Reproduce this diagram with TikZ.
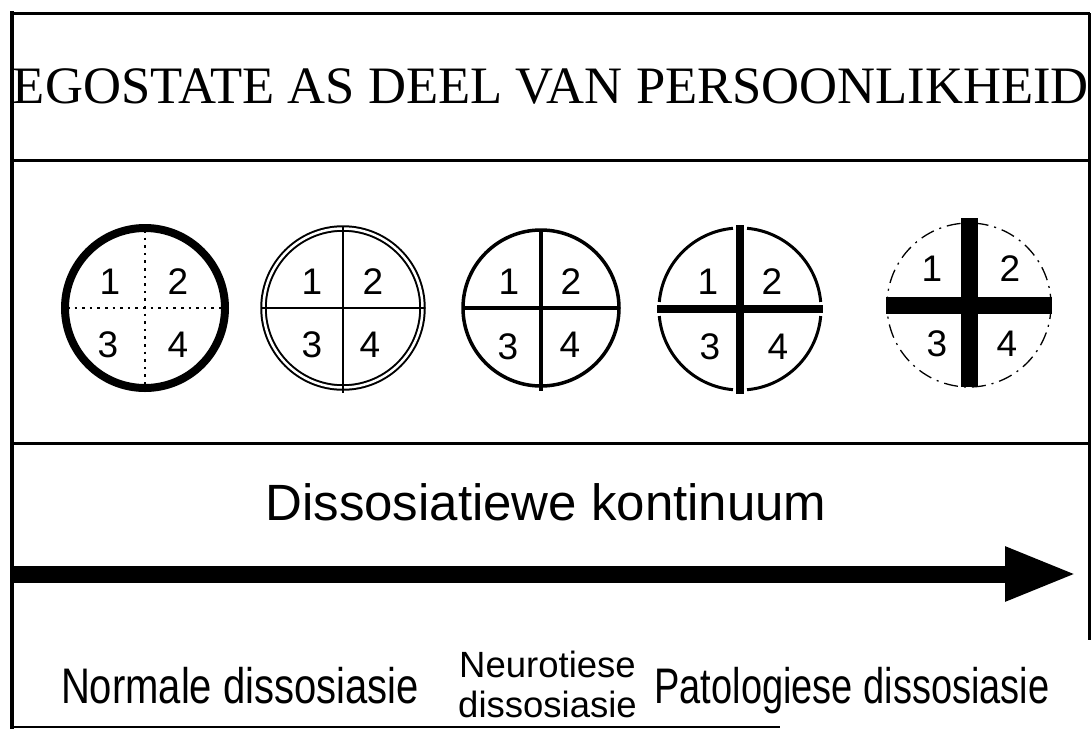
\documentclass[tikz,border=0pt]{standalone}
\usepackage{fontspec}
\setmainfont{Liberation Serif}
\newfontfamily\arialish{Liberation Sans}
\usetikzlibrary{arrows.meta}

\begin{document}
\begin{tikzpicture}[x=1pt,y=-1pt,
  frame/.style={line width=3pt},
  digit/.style={font=\arialish\fontsize{37}{40}\selectfont, inner sep=0pt},
  biglabel/.style={font=\arialish\fontsize{51}{56}\selectfont, inner sep=0pt, anchor=base},
  lowlabel/.style={font=\arialish\fontsize{50}{54}\selectfont, inner sep=0pt, anchor=base},
  neurolabel/.style={font=\arialish\fontsize{36.5}{40}\selectfont, inner sep=0pt, anchor=base},
  dotcross/.style={line width=2.6pt, dash pattern=on 2.6pt off 5pt},
]
\useasboundingbox (0,0) rectangle (1092,729);

% outer frame and panel separators
\draw[line width=4pt] (12,11) -- (12,729);
\draw[frame] (10,13) -- (1090,13);
\draw[frame] (1089,13) -- (1089,640);
\draw[frame] (10,160) -- (1090,160);
\draw[frame] (10,443) -- (1090,443);
\draw[line width=2pt] (12,727) -- (780,727);

% heading
\node[font=\fontsize{52.6}{60}\selectfont, inner sep=0pt, anchor=base] (title) at (551,103) {EGOSTATE AS DEEL VAN PERSOONLIKHEID};

% circle centres
\coordinate (c1) at (145,308);
\coordinate (c2) at (343,308);
\coordinate (c3) at (541,308);
\coordinate (c4) at (740,309);
\coordinate (c5) at (969,305);

% circle 1: heavy ring, dotted partitions
\draw[line width=8pt] (c1) circle[radius=80];
\draw[dotcross] ([shift={(-78,0)}]c1) -- ([shift={(78,0)}]c1);
\draw[dotcross] ([shift={(0,-78)}]c1) -- ([shift={(0,78)}]c1);

% circle 2: double ring, thin partitions
\draw[line width=2pt, double, double distance=2.5pt] (c2) circle[radius=79.5];
\draw[line width=2.5pt] ([shift={(-81,0)}]c2) -- ([shift={(82,0)}]c2);
\draw[line width=2.5pt] ([shift={(0,-82)}]c2) -- ([shift={(0,85)}]c2);

% circle 3: single ring, medium partitions
\draw[line width=3.5pt] (c3) circle[radius=78];
\draw[line width=4.5pt] ([shift={(-79,0)}]c3) -- ([shift={(79,0)}]c3);
\draw[line width=4.5pt] ([shift={(0,-79)}]c3) -- ([shift={(0,83)}]c3);

% circle 4: broken ring, heavy partitions
\foreach \a in {0,90,180,270}
  \draw[line width=3pt] ([shift={(\a+5:81)}]c4) arc[start angle=\a+5, end angle=\a+85, radius=81];
\draw[line width=8pt] ([shift={(-83,0)}]c4) -- ([shift={(83,0)}]c4);
\draw[line width=8pt] ([shift={(0,-84)}]c4) -- ([shift={(0,85)}]c4);

% circle 5: dashed ring, very heavy partitions
\draw[line width=1.3pt, dash pattern=on 14pt off 6pt on 2pt off 6pt] (c5) circle[radius=82];
\draw[line width=17pt] ([shift={(-83,0)}]c5) -- ([shift={(83,0)}]c5);
\draw[line width=17pt] ([shift={(0,-87)}]c5) -- ([shift={(0,82)}]c5);

% quadrant numbers
\node[digit] (c1a) at ([shift={(-35,-26)}]c1) {1};
\node[digit] (c1b) at ([shift={(33,-26)}]c1) {2};
\node[digit] (c1c) at ([shift={(-37,37)}]c1) {3};
\node[digit] (c1d) at ([shift={(33,37)}]c1) {4};

\node[digit] (c2a) at ([shift={(-31,-26)}]c2) {1};
\node[digit] (c2b) at ([shift={(30,-26)}]c2) {2};
\node[digit] (c2c) at ([shift={(-31,37)}]c2) {3};
\node[digit] (c2d) at ([shift={(27,37)}]c2) {4};

\node[digit] (c3a) at ([shift={(-32,-26)}]c3) {1};
\node[digit] (c3b) at ([shift={(30,-26)}]c3) {2};
\node[digit] (c3c) at ([shift={(-33,39)}]c3) {3};
\node[digit] (c3d) at ([shift={(29,37)}]c3) {4};

\node[digit] (c4a) at ([shift={(-32,-27)}]c4) {1};
\node[digit] (c4b) at ([shift={(32,-27)}]c4) {2};
\node[digit] (c4c) at ([shift={(-30,38)}]c4) {3};
\node[digit] (c4d) at ([shift={(38,38)}]c4) {4};

\node[digit] (c5a) at ([shift={(-37,-36)}]c5) {1};
\node[digit] (c5b) at ([shift={(41,-36)}]c5) {2};
\node[digit] (c5c) at ([shift={(-32,39)}]c5) {3};
\node[digit] (c5d) at ([shift={(38,39)}]c5) {4};

% continuum
\node[biglabel] (kont) at (546,520) {Dissosiatiewe kontinuum};
\coordinate (arrS) at (10,574);
\coordinate (arrE) at (1077,574);
\draw[line width=17pt, -{Triangle[length=72pt,width=50pt]}] (arrS) -- (arrE);

% stages along the continuum
\node[lowlabel, xscale=0.8] (norm) at (240,703) {Normale dissosiasie};
\node[neurolabel] (neuro1) at (547.5,677) {Neurotiese};
\node[neurolabel] (neuro2) at (547.5,717) {dissosiasie};
\node[lowlabel, xscale=0.76] (pato) at (852,703) {Patologiese dissosiasie};
\end{tikzpicture}
\end{document}
